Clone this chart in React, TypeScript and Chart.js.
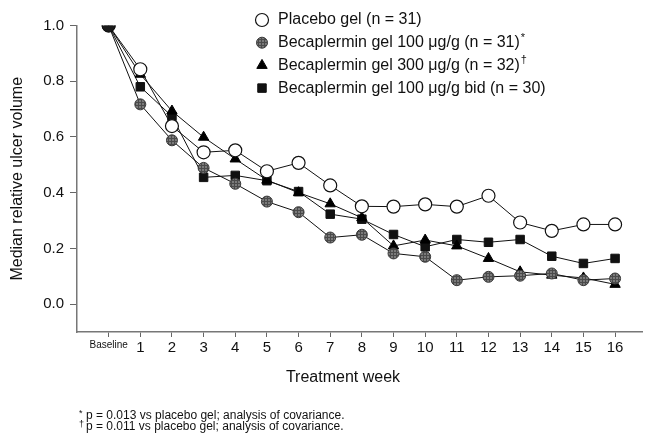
import React, { useEffect, useRef } from 'react';
import { Chart, registerables } from 'chart.js';

Chart.register(...registerables);

const weeks = [0, 1, 2, 3, 4, 5, 6, 7, 8, 9, 10, 11, 12, 13, 14, 15, 16];
const weekLabels = ['Baseline', '1', '2', '3', '4', '5', '6', '7', '8', '9', '10', '11', '12', '13', '14', '15', '16'];
const yTickValues = [0, 0.2, 0.4, 0.6, 0.8, 1.0];

const placebo = [1.0, 0.843, 0.639, 0.545, 0.552, 0.477, 0.507, 0.426, 0.351, 0.35, 0.358, 0.35, 0.389, 0.293, 0.263, 0.286, 0.286];
const becap100 = [1.0, 0.717, 0.588, 0.489, 0.432, 0.368, 0.33, 0.239, 0.249, 0.182, 0.17, 0.086, 0.098, 0.102, 0.11, 0.086, 0.092];
const becap300 = [1.0, 0.825, 0.693, 0.599, 0.521, 0.445, 0.4, 0.36, 0.31, 0.209, 0.23, 0.209, 0.164, 0.116, 0.104, 0.094, 0.071];
const becap100bid = [1.0, 0.78, 0.674, 0.455, 0.462, 0.443, 0.404, 0.323, 0.305, 0.25, 0.206, 0.232, 0.222, 0.232, 0.172, 0.146, 0.164];

const seriesLabels = [
  'Placebo gel (n = 31)',
  'Becaplermin gel 100 \u03bcg/g (n = 31)',
  'Becaplermin gel 300 \u03bcg/g (n = 32)',
  'Becaplermin gel 100 \u03bcg/g bid (n = 30)',
];
const seriesMarks = ['', '*', '\u2020', ''];

const xTitle = 'Treatment week';
const yTitle = 'Median relative ulcer volume';
const footnoteMarks = ['*', '\u2020'];
const footnotes = [
  'p = 0.013 vs placebo gel; analysis of covariance.',
  'p = 0.011 vs placebo gel; analysis of covariance.',
];

const FONT = '"Liberation Sans", Arial, Helvetica, sans-serif';

function makePattern(): CanvasPattern | string {
  const c = document.createElement('canvas');
  c.width = 3;
  c.height = 3;
  const g = c.getContext('2d');
  if (!g) return '#666';
  g.fillStyle = '#7a7a7a';
  g.fillRect(0, 0, 3, 3);
  g.fillStyle = '#4a4a4a';
  g.fillRect(0, 0, 3, 1);
  g.fillRect(0, 0, 1, 3);
  const ctx = document.createElement('canvas').getContext('2d');
  const p = ctx ? ctx.createPattern(c, 'repeat') : null;
  return p || '#666';
}

function drawMarker(ctx: CanvasRenderingContext2D, kind: string, x: number, y: number, r: number, fill: any, stroke: string, lw: number) {
  ctx.save();
  ctx.beginPath();
  if (kind === 'circle') {
    ctx.arc(x, y, r, 0, Math.PI * 2);
  } else if (kind === 'triangle') {
    for (let i = 0; i < 3; i++) {
      const a = (i * 2 * Math.PI) / 3;
      const px = x + Math.sin(a) * r;
      const py = y - Math.cos(a) * r;
      if (i === 0) ctx.moveTo(px, py);
      else ctx.lineTo(px, py);
    }
    ctx.closePath();
  } else {
    const s = r * Math.SQRT1_2;
    ctx.rect(x - s, y - s, 2 * s, 2 * s);
  }
  ctx.fillStyle = fill;
  ctx.fill();
  ctx.lineWidth = lw;
  ctx.strokeStyle = stroke;
  ctx.stroke();
  ctx.restore();
}

export default function App() {
  const ref = useRef<HTMLCanvasElement | null>(null);

  useEffect(() => {
    if (!ref.current) return;
    const pattern = makePattern();
    Chart.defaults.font.family = FONT;
    Chart.defaults.color = '#111';

    const toXY = (arr: number[]) => weeks.map((w, i) => ({ x: w, y: arr[i] }));

    const legendStyles = [
      { kind: 'circle', r: 6.5, fill: '#ffffff', stroke: '#111', lw: 1.2 },
      { kind: 'circle', r: 5.5, fill: pattern, stroke: '#3a3a3a', lw: 1 },
      { kind: 'triangle', r: 6, fill: '#000', stroke: '#000', lw: 1 },
      { kind: 'rect', r: 6, fill: '#111', stroke: '#111', lw: 1 },
    ];

    const textPlugin = {
      id: 'textPlugin',
      afterDraw(chart: any) {
        const ctx: CanvasRenderingContext2D = chart.ctx;
        ctx.save();
        ctx.fillStyle = '#111';
        ctx.textBaseline = 'middle';
        ctx.textAlign = 'left';
        const lx = 262;
        const tx = 278;
        const ly0 = 20;
        const step = 22.7;
        seriesLabels.forEach((lab, i) => {
          const y = ly0 + i * step;
          const st = legendStyles[i];
          drawMarker(ctx, st.kind, lx, y, st.r, st.fill, st.stroke, st.lw);
          ctx.font = `16px ${FONT}`;
          ctx.fillStyle = '#111';
          ctx.fillText(lab, tx, y);
          if (seriesMarks[i]) {
            const w = ctx.measureText(lab).width;
            ctx.font = `11px ${FONT}`;
            ctx.fillText(seriesMarks[i], tx + w + 1, y - 5);
          }
        });
        ctx.font = `16px ${FONT}`;
        ctx.textAlign = 'center';
        ctx.fillText(xTitle, 343, 378);
        ctx.textAlign = 'left';
        footnotes.forEach((t, i) => {
          const y = 416 + i * 11;
          ctx.font = `9px ${FONT}`;
          ctx.fillText(footnoteMarks[i], 79, y - 2);
          ctx.font = `12px ${FONT}`;
          ctx.fillText(t, 86, y);
        });
        ctx.restore();
      },
    };

    const chart = new Chart(ref.current, {
      type: 'line',
      data: {
        datasets: [
          {
            label: seriesLabels[0],
            data: toXY(placebo),
            borderColor: '#111',
            borderWidth: 1,
            pointStyle: 'circle',
            pointRadius: 6.5,
            pointBackgroundColor: '#ffffff',
            pointBorderColor: '#111',
            pointBorderWidth: 1.2,
            tension: 0,
            fill: false,
            order: 1,
          },
          {
            label: seriesLabels[1],
            data: toXY(becap100),
            borderColor: '#111',
            borderWidth: 1,
            pointStyle: 'circle',
            pointRadius: weeks.map((w) => (w === 0 ? 6.5 : 5.5)),
            pointBackgroundColor: weeks.map((w) => (w === 0 ? '#1a1a1a' : pattern)) as any,
            pointBorderColor: weeks.map((w) => (w === 0 ? '#111' : '#3a3a3a')),
            pointBorderWidth: 1,
            tension: 0,
            fill: false,
            order: 0,
          },
          {
            label: seriesLabels[2],
            data: toXY(becap300),
            borderColor: '#111',
            borderWidth: 1,
            pointStyle: 'triangle',
            pointRadius: 6,
            pointBackgroundColor: '#000',
            pointBorderColor: '#000',
            pointBorderWidth: 1,
            tension: 0,
            fill: false,
            order: 1,
          },
          {
            label: seriesLabels[3],
            data: toXY(becap100bid),
            borderColor: '#111',
            borderWidth: 1,
            pointStyle: 'rect',
            pointRadius: 6,
            pointBackgroundColor: '#111',
            pointBorderColor: '#111',
            pointBorderWidth: 1,
            tension: 0,
            fill: false,
            order: 1,
          },
        ],
      },
      options: {
        animation: false,
        responsive: false,
        maintainAspectRatio: false,
        layout: { padding: { top: 25.5, right: 0, bottom: 0, left: 0 } },
        plugins: {
          legend: { display: false },
          tooltip: { enabled: false },
          title: { display: false },
        },
        elements: { line: { tension: 0 } },
        scales: {
          x: {
            type: 'linear',
            min: -1,
            max: 16.86,
            afterBuildTicks: (s: any) => {
              s.ticks = weeks.map((v) => ({ value: v }));
            },
            afterFit: (s: any) => {
              s.height = 106;
            },
            grid: {
              display: true,
              drawOnChartArea: false,
              drawTicks: true,
              tickLength: 5,
              color: '#666',
              lineWidth: 1,
            },
            border: { display: true, color: '#777', width: 1.5 },
            ticks: {
              autoSkip: false,
              maxRotation: 0,
              padding: 2,
              color: '#111',
              font: (c: any) => (c.tick && c.tick.value === 0 ? { size: 10, family: FONT } : { size: 15, family: FONT }),
              callback: (v: any) => weekLabels[weeks.indexOf(Number(v))] ?? '',
            },
          },
          y: {
            type: 'linear',
            min: -0.1,
            max: 1.0,
            afterBuildTicks: (s: any) => {
              s.ticks = yTickValues.map((v) => ({ value: v }));
            },
            afterFit: (s: any) => {
              s.width = 77;
            },
            grid: {
              display: true,
              drawOnChartArea: false,
              drawTicks: true,
              tickLength: 7,
              color: '#666',
              lineWidth: 1,
            },
            border: { display: true, color: '#777', width: 1.5 },
            title: {
              display: true,
              text: yTitle,
              font: { size: 16, family: FONT },
              color: '#111',
              padding: { top: 8, bottom: 0 },
            },
            ticks: {
              padding: 6,
              color: '#111',
              font: { size: 15, family: FONT },
              callback: (v: any) => Number(v).toFixed(1),
            },
          },
        },
      } as any,
      plugins: [textPlugin],
    });

    return () => {
      chart.destroy();
    };
  }, []);

  return (
    <div style={{ position: 'absolute', left: 0, top: 0, width: 650, height: 438, background: '#fff' }}>
      <canvas ref={ref} width={650} height={438} style={{ display: 'block' }} />
    </div>
  );
}
